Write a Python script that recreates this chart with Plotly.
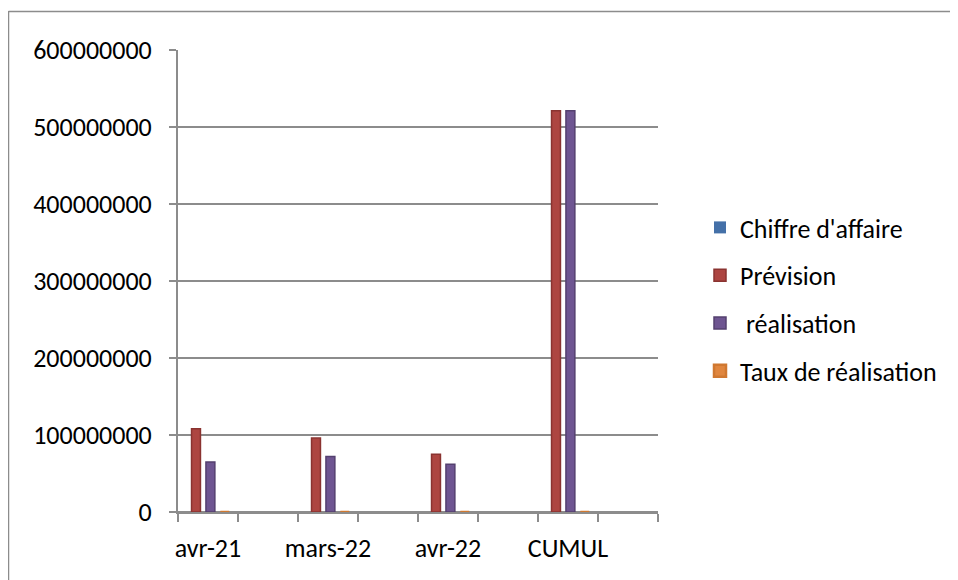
import plotly.graph_objects as go

categories = ["avr-21", "mars-22", "avr-22", "CUMUL"]
chiffre_affaire = [0, 0, 0, 0]
prevision = [108e6, 96e6, 75e6, 521e6]
realisation = [65e6, 72e6, 62e6, 521e6]
taux_realisation = [0.6, 0.75, 0.83, 1.0]

series_names = ["Chiffre d'affaire", "Prévision", " réalisation", "Taux de réalisation"]
series_values = [chiffre_affaire, prevision, realisation, taux_realisation]
series_colors = ["#4470A8", "#AD4541", "#6E5591", "#E0863E"]
series_edges = ["#36598A", "#8A3330", "#54406F", "#D07830"]
series_edge_widths = [0, 1.5, 1.5, 2.5]

W, H = 958, 580
OFF = 8  # page body margin
# plot-area edges in page pixels
PL, PR, PT, PB = 178, 658, 50, 512
L, R, T, B = PL - OFF, W - (PR - OFF), PT - OFF, H - (PB - OFF)
GRID = "#8C8C8C"
FONT = "Carlito, Lato, sans-serif"
FS = 26

xs = [2 * i + 0.42 for i in range(len(categories))]
label_pos = [2 * i + 0.5 for i in range(len(categories))]

fig = go.Figure()
for k, (name, vals, col, edge, ew) in enumerate(zip(series_names, series_values, series_colors,
                                                    series_edges, series_edge_widths)):
    fig.add_trace(go.Bar(
        x=xs, y=vals, name=name, legendgroup=f"g{k}",
        marker=dict(color=col, line=dict(color=edge, width=ew)),
    ))

pw = PR - PL
ph = PB - PT
def px_x(p):
    return (p - PL) / pw
def px_y(p):
    return (PB - p) / ph

fig.update_layout(
    width=W, height=H,
    margin=dict(l=L, r=R, t=T, b=B),
    paper_bgcolor="white", plot_bgcolor="white",
    barmode="group", bargap=0.52, bargroupgap=0.38,
    font=dict(family=FONT, size=FS, color="black"),
    showlegend=True,
    legend=dict(
        x=px_x(700), y=px_y(204), xanchor="left", yanchor="top",
        traceorder="grouped", tracegroupgap=11,
        font=dict(family=FONT, size=FS, color="black"),
        bgcolor="rgba(0,0,0,0)",
    ),
    xaxis=dict(
        range=[0, 8], tickmode="array", tickvals=label_pos, ticktext=categories,
        ticks="", showgrid=False, zeroline=False, layer="below traces",
        showline=True, linecolor=GRID, linewidth=2,
        minor=dict(tickmode="array", tickvals=list(range(9)), ticks="outside",
                   ticklen=8, tickcolor=GRID, tickwidth=2, showgrid=False),
        ticklabelstandoff=12,
        tickfont=dict(family=FONT, size=FS, color="black"),
    ),
    yaxis=dict(
        range=[0, 600e6], tickmode="array",
        tickvals=[0, 100e6, 200e6, 300e6, 400e6, 500e6, 600e6],
        ticktext=["0", "100000000", "200000000", "300000000", "400000000", "500000000", "600000000"],
        ticks="outside", ticklen=7, tickcolor=GRID, tickwidth=2,
        showgrid=True, gridcolor=GRID, gridwidth=2,
        zeroline=True, zerolinecolor=GRID, zerolinewidth=2,
        showline=True, linecolor=GRID, linewidth=2,
        ticklabelstandoff=12,
        tickfont=dict(family=FONT, size=FS, color="black"),
    ),
    shapes=[
        dict(type="line", xref="paper", yref="paper", x0=px_x(8.5), x1=px_x(8.5), y0=px_y(11), y1=px_y(600),
             line=dict(color="#8C8C8C", width=1.5)),
        dict(type="line", xref="paper", yref="paper", x0=px_x(8.5), x1=px_x(980), y0=px_y(11.5), y1=px_y(11.5),
             line=dict(color="#8C8C8C", width=1.5)),
    ],
)

fig.write_html("out.html")
